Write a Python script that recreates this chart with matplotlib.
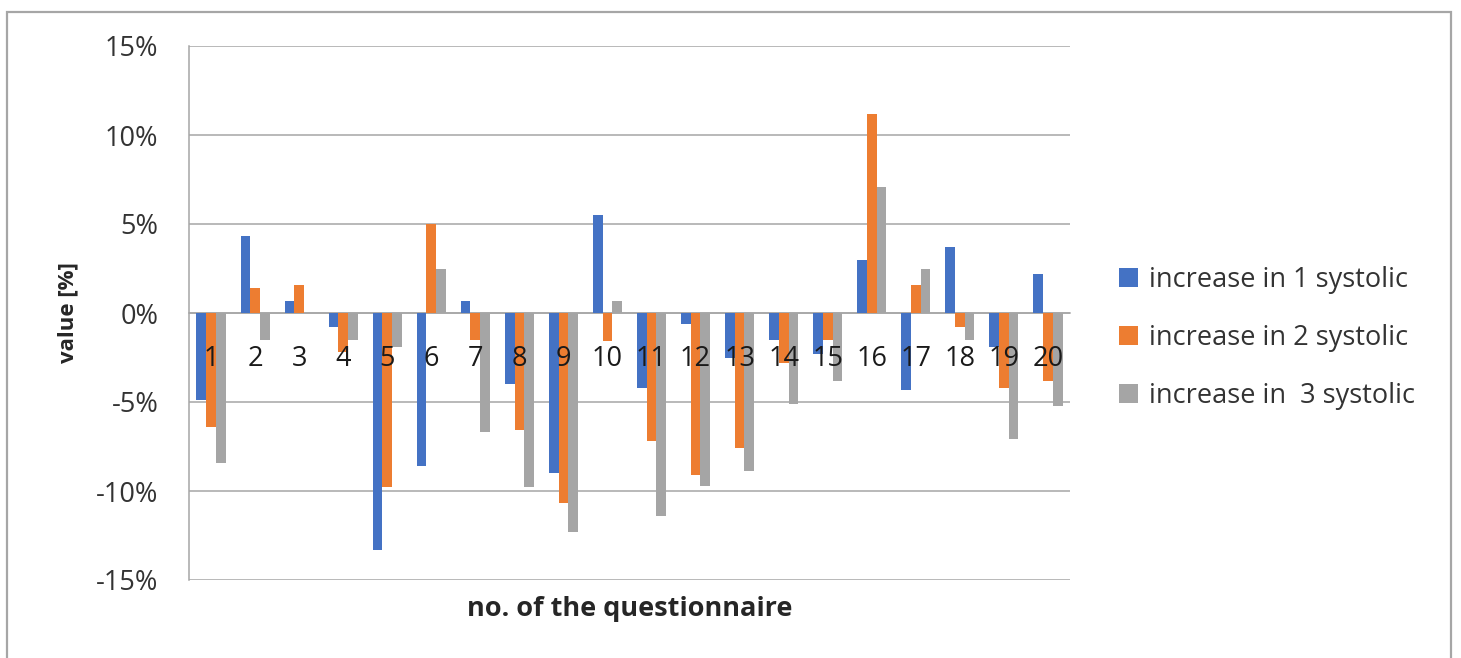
import matplotlib.pyplot as plt
from matplotlib.patches import Rectangle
import numpy as np

plt.rcParams['font.family'] = ['Open Sans', 'DejaVu Sans']

questionnaires = [str(i) for i in range(1, 21)]
series_names = ['increase in 1 systolic', 'increase in 2 systolic', 'increase in  3 systolic']

# change in systolic pressure, in percent
increase_1 = [-4.9, 4.3, 0.7, -0.8, -13.3, -8.6, 0.7, -4.0, -9.0, 5.5,
              -4.2, -0.6, -2.5, -1.5, -2.3, 3.0, -4.3, 3.7, -1.9, 2.2]
increase_2 = [-6.4, 1.4, 1.6, -2.2, -9.8, 5.0, -1.5, -6.6, -10.7, -1.6,
              -7.2, -9.1, -7.6, -2.8, -1.5, 11.2, 1.6, -0.8, -4.2, -3.8]
increase_3 = [-8.4, -1.5, 0.0, -1.5, -1.9, 2.5, -6.7, -9.8, -12.3, 0.7,
              -11.4, -9.7, -8.9, -5.1, -3.8, 7.1, 2.5, -1.5, -7.1, -5.2]

y_ticks = [-15, -10, -5, 0, 5, 10, 15]
y_tick_labels = ['-15%', '-10%', '-5%', '0%', '5%', '10%', '15%']

colors = ['#4472C4', '#ED7D31', '#A5A5A5']
grid_col = '#A6A6A6'
text_col = '#333333'

fig = plt.figure(figsize=(14.61, 6.58), dpi=100)
ax = fig.add_axes([189/1461, 78/658, 881/1461, 534/658])

x = np.arange(len(questionnaires))
w = 0.22
for k, (vals, name) in enumerate(zip([increase_1, increase_2, increase_3], series_names)):
    ax.bar(x + (k - 1)*w, vals, width=w, color=colors[k], label=name, zorder=3)

ax.set_xlim(-0.5, len(questionnaires) - 0.5)
ax.set_ylim(-15, 15)
ax.set_yticks(y_ticks)
ax.set_yticklabels(y_tick_labels)
ax.set_xticks(x)
ax.set_xticklabels(questionnaires)

ax.yaxis.grid(True, color=grid_col, lw=1.1, zorder=0)
ax.set_axisbelow(True)
# category numbers sit on top of the bars
ax.xaxis.set_zorder(5)
for s in ['top', 'right']:
    ax.spines[s].set_visible(False)
ax.spines['left'].set_color(grid_col)
ax.spines['left'].set_linewidth(1.1)
ax.spines['bottom'].set_position(('data', 0))
ax.spines['bottom'].set_color(grid_col)
ax.spines['bottom'].set_linewidth(1.1)
ax.spines['bottom'].set_zorder(1)

ax.tick_params(axis='y', length=0, pad=22, labelsize=19.5, labelcolor=text_col)
ax.tick_params(axis='x', length=0, pad=23, labelsize=19.5, labelcolor='#1a1a1a')

ax.set_xlabel('no. of the questionnaire', fontsize=19.5, fontweight='bold', color='#262626')
ax.xaxis.set_label_coords(0.5, -0.03)
ax.set_ylabel('value [%]', fontsize=16, fontweight='bold', color='#262626')
ax.yaxis.set_label_coords(-0.125, 0.5)

fig.legend(loc='center left', bbox_to_anchor=(1119/1461, 1 - 338/658),
           frameon=False, fontsize=19.5, handlelength=0.7, handleheight=0.7,
           handletextpad=0.4, labelspacing=1.1, borderpad=0, borderaxespad=0,
           labelcolor=text_col)

# outer chart border
fig.patches.append(Rectangle((7/1461, -0.1), 1444/1461, 1.1 - 12/658,
                             transform=fig.transFigure, fill=False,
                             edgecolor='#A6A6A6', lw=1.6))

fig.savefig('out.png', dpi=100)
